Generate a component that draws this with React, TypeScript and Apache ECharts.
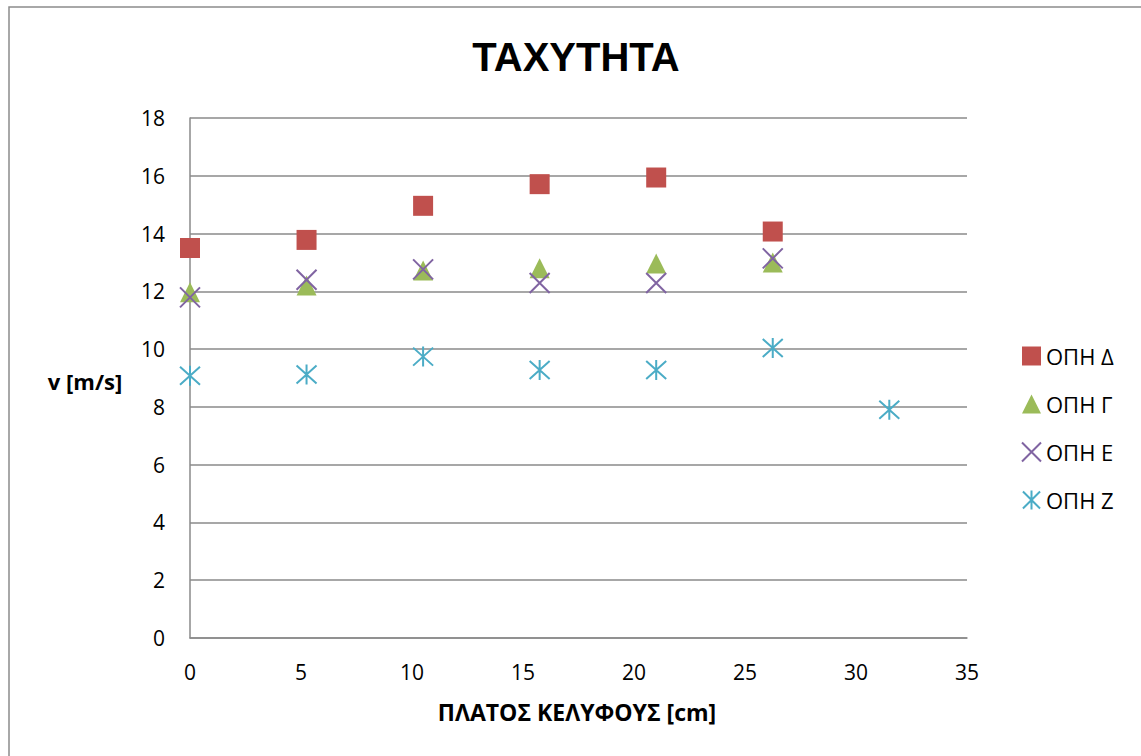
import React, { useEffect, useRef } from "react";
import * as echarts from "echarts";

// Shell width [cm] at each measuring position
const shellWidth = [0, 5.25, 10.5, 15.75, 21, 26.25, 31.5];

// Velocity [m/s] measured at each hole
const holeDelta = [13.5, 13.78, 14.96, 15.71, 15.94, 14.07];
const holeGamma = [11.97, 12.2, 12.72, 12.8, 12.96, 13.0];
const holeEpsilon = [11.79, 12.4, 12.76, 12.29, 12.29, 13.14];
const holeZeta = [9.08, 9.12, 9.74, 9.28, 9.28, 10.04, 7.9];

const seriesNames = ["ΟΠΗ Δ", "ΟΠΗ Γ", "ΟΠΗ Ε", "ΟΠΗ Ζ"];

const yTicks = { min: 0, max: 18, step: 2 };
const xTicks = { min: 0, max: 35, step: 5 };

const FONT = "'Open Sans', 'Noto Sans', sans-serif";
const GRID_COLOR = "#8a8a8a";

const crossPath = "path://M0,0L20,20M20,0L0,20";
const starPath = "path://M10,0L10,20M1,1L19,19M19,1L1,19";

function pairs(values: number[]): number[][] {
  return values.map((v, i) => [shellWidth[i], v]);
}

export default function App() {
  const ref = useRef<HTMLDivElement>(null);

  useEffect(() => {
    document.body.style.margin = "0";
    if (!ref.current) return;
    const chart = echarts.init(ref.current, null, { renderer: "svg" });

    chart.setOption({
      animation: false,
      backgroundColor: "#ffffff",
      grid: { left: 190, right: 174, top: 118, bottom: 118 },
      xAxis: {
        type: "value",
        min: xTicks.min,
        max: xTicks.max,
        interval: xTicks.step,
        axisLine: { show: true, onZero: false, lineStyle: { color: GRID_COLOR, width: 1.5 } },
        axisTick: { show: false },
        splitLine: { show: false },
        axisLabel: { color: "#000", fontFamily: FONT, fontSize: 21, margin: 23 },
      },
      yAxis: {
        type: "value",
        min: yTicks.min,
        max: yTicks.max,
        interval: yTicks.step,
        axisLine: { show: true, lineStyle: { color: GRID_COLOR, width: 1.5 } },
        axisTick: { show: false },
        splitLine: { show: true, lineStyle: { color: GRID_COLOR, width: 1.5 } },
        axisLabel: { color: "#000", fontFamily: FONT, fontSize: 21, margin: 25 },
      },
      legend: {
        orient: "vertical",
        left: 1016,
        top: 340,
        itemWidth: 19,
        itemHeight: 19,
        itemGap: 26,
        textStyle: { color: "#000", fontFamily: FONT, fontSize: 22 },
        data: seriesNames,
      },
      graphic: [
        {
          type: "rect",
          shape: { x: 9, y: 7, width: 1200, height: 800 },
          style: { fill: "none", stroke: "#8c8c8c", lineWidth: 1.5 },
          silent: true,
        },
        {
          type: "text",
          x: 576,
          y: 57,
          style: {
            text: "ΤΑΧΥΤΗΤΑ",
            fill: "#000",
            font: "bold 40px 'Liberation Sans', Arial, sans-serif",
            textAlign: "center",
            textVerticalAlign: "middle",
          },
        },
        {
          type: "text",
          x: 85,
          y: 381,
          style: {
            text: "v [m/s]",
            fill: "#000",
            font: `bold 22px ${FONT}`,
            textAlign: "center",
            textVerticalAlign: "middle",
          },
        },
        {
          type: "text",
          x: 577,
          y: 712,
          style: {
            text: "ΠΛΑΤΟΣ ΚΕΛΥΦΟΥΣ [cm]",
            fill: "#000",
            font: `bold 23px ${FONT}`,
            textAlign: "center",
            textVerticalAlign: "middle",
          },
        },
      ],
      series: [
        {
          name: seriesNames[0],
          type: "scatter",
          symbol: "rect",
          symbolSize: 20,
          itemStyle: { color: "#c0504d", opacity: 1 },
          data: pairs(holeDelta),
        },
        {
          name: seriesNames[1],
          type: "scatter",
          symbol: "triangle",
          symbolSize: 20,
          itemStyle: { color: "#9bbb59", opacity: 1 },
          data: pairs(holeGamma),
        },
        {
          name: seriesNames[2],
          type: "scatter",
          symbol: crossPath,
          symbolSize: 20,
          itemStyle: { color: "rgba(0,0,0,0)", borderColor: "#8064a2", borderWidth: 2, opacity: 1 },
          data: pairs(holeEpsilon),
        },
        {
          name: seriesNames[3],
          type: "scatter",
          symbol: starPath,
          symbolSize: 20,
          itemStyle: { color: "rgba(0,0,0,0)", borderColor: "#4bacc6", borderWidth: 2, opacity: 1 },
          data: pairs(holeZeta),
        },
      ],
    });

    return () => chart.dispose();
  }, []);

  return <div ref={ref} style={{ width: 1141, height: 756 }} />;
}
